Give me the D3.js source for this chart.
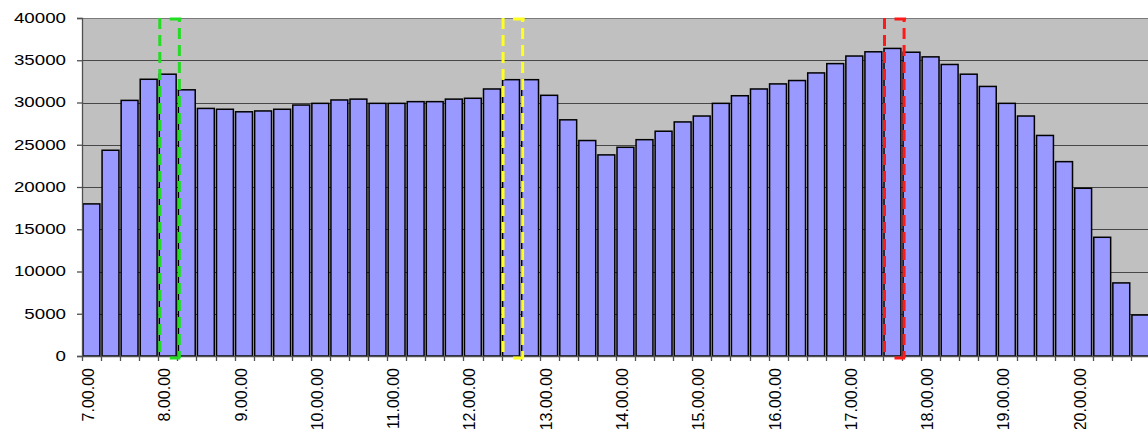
<!DOCTYPE html>
<html>
<head>
<meta charset="utf-8">
<script src="https://cdn.jsdelivr.net/npm/d3@7"></script>
<style>
  html, body { margin: 0; padding: 0; background: #ffffff; }
  svg { display: block; }
  text { font-family: "Liberation Sans", Arial, sans-serif; fill: #000; }
</style>
</head>
<body>
<svg id="chart" width="1148" height="429"></svg>
<script>
// ---- data ----
const categories = [
  "7.00.00","7.15.00","7.30.00","7.45.00",
  "8.00.00","8.15.00","8.30.00","8.45.00",
  "9.00.00","9.15.00","9.30.00","9.45.00",
  "10.00.00","10.15.00","10.30.00","10.45.00",
  "11.00.00","11.15.00","11.30.00","11.45.00",
  "12.00.00","12.15.00","12.30.00","12.45.00",
  "13.00.00","13.15.00","13.30.00","13.45.00",
  "14.00.00","14.15.00","14.30.00","14.45.00",
  "15.00.00","15.15.00","15.30.00","15.45.00",
  "16.00.00","16.15.00","16.30.00","16.45.00",
  "17.00.00","17.15.00","17.30.00","17.45.00",
  "18.00.00","18.15.00","18.30.00","18.45.00",
  "19.00.00","19.15.00","19.30.00","19.45.00",
  "20.00.00","20.15.00","20.30.00","20.45.00"
];
const values = [
  18000, 24350, 30250, 32750,
  33350, 31500, 29300, 29200,
  28900, 29000, 29200, 29700,
  29900, 30300, 30400, 29900,
  29900, 30100, 30100, 30400,
  30500, 31600, 32700, 32700,
  30850, 27950, 25500, 23800,
  24700, 25600, 26600, 27700,
  28400, 29900, 30800, 31600,
  32200, 32600, 33500, 34600,
  35500, 36000, 36400, 35950,
  35400, 34500, 33350, 31900,
  29900, 28400, 26100, 23000,
  19850, 14050, 8650, 4850
];
const yTicks = [0, 5000, 10000, 15000, 20000, 25000, 30000, 35000, 40000];
const xTickLabels = ["7.00.00","8.00.00","9.00.00","10.00.00","11.00.00","12.00.00",
  "13.00.00","14.00.00","15.00.00","16.00.00","17.00.00","18.00.00","19.00.00","20.00.00"];
const highlightCats = ["8.00.00", "12.30.00", "17.30.00"];
const highlightColors = ["#22dd22", "#ffff22", "#ff1a1a"];

// ---- layout ----
const svg = d3.select("#chart");
const plot = { left: 82, right: 1150, top: 18, bottom: 356 };

const x = d3.scaleBand().domain(categories).range([plot.left, plot.right]).padding(0);
const y = d3.scaleLinear().domain([0, 40000]).range([plot.bottom, plot.top]);
const step = x.step();

// plot background
svg.append("rect")
  .attr("x", plot.left).attr("y", plot.top)
  .attr("width", plot.right - plot.left).attr("height", plot.bottom - plot.top)
  .attr("fill", "#c0c0c0");

// gridlines
svg.append("g").selectAll("line").data(yTicks.filter(d => d > 0)).join("line")
  .attr("x1", plot.left).attr("x2", plot.right)
  .attr("y1", d => Math.round(y(d)) + 0.5).attr("y2", d => Math.round(y(d)) + 0.5)
  .attr("stroke", d => d === 40000 ? "#7a7a7a" : "#474747")
  .attr("stroke-width", 1.2);

// bars
svg.append("g").selectAll("rect").data(values).join("rect")
  .attr("x", (d, i) => x(categories[i]) + 1)
  .attr("width", step - 2.2)
  .attr("y", d => y(d))
  .attr("height", d => y(0) - y(d))
  .attr("fill", "#9999ff")
  .attr("stroke", "#000")
  .attr("stroke-width", 1.5);

// y axis
const yAxis = d3.axisLeft(y).tickValues(yTicks).tickSize(5).tickFormat("");
const gy = svg.append("g").attr("transform", `translate(${plot.left},0)`).call(yAxis);
gy.select(".domain").attr("stroke", "#505050").attr("stroke-width", 1.3);
gy.selectAll(".tick line").attr("stroke", "#505050").attr("stroke-width", 1.3);

svg.append("g").selectAll("text").data(yTicks).join("text")
  .attr("transform", d => `translate(66,${y(d)}) scale(1.25,1)`)
  .attr("text-anchor", "end")
  .attr("dominant-baseline", "central")
  .attr("font-size", 15)
  .text(d => d);

// x axis (ticks at category boundaries)
svg.append("line")
  .attr("x1", plot.left).attr("x2", plot.right)
  .attr("y1", plot.bottom + 0.5).attr("y2", plot.bottom + 0.5)
  .attr("stroke", "#505050").attr("stroke-width", 1.3);
svg.append("g").selectAll("line").data(categories).join("line")
  .attr("x1", d => Math.round(x(d)) + 0.5).attr("x2", d => Math.round(x(d)) + 0.5)
  .attr("y1", plot.bottom).attr("y2", plot.bottom + 5)
  .attr("stroke", "#505050").attr("stroke-width", 1.3);

svg.append("g").selectAll("text").data(xTickLabels).join("text")
  .attr("transform", d => `translate(${x(d) + step / 2 - 3},368) rotate(-90)`)
  .attr("text-anchor", "end")
  .attr("dominant-baseline", "central")
  .attr("font-size", 16)
  .text(d => d);

// dashed highlight boxes
const hg = svg.append("g");
highlightCats.forEach((c, k) => {
  const i = categories.indexOf(c);
  const l = x(c) + 1.5;
  const r = x(categories[i + 1]) + 2;
  const t = plot.top + 1;
  const b = plot.bottom + 2;
  const col = highlightColors[k];
  const common = sel => sel.attr("stroke", col).attr("stroke-width", 3).attr("fill", "none");
  hg.append("line").attr("x1", l).attr("x2", l).attr("y1", t - 1).attr("y2", b)
    .call(common).attr("stroke-dasharray", "11,6");
  hg.append("line").attr("x1", r).attr("x2", r).attr("y1", t).attr("y2", b)
    .call(common).attr("stroke-dasharray", "11,6").attr("stroke-dashoffset", -9);
  hg.append("line").attr("x1", l + 10).attr("x2", r + 2).attr("y1", t).attr("y2", t)
    .call(common);
  hg.append("line").attr("x1", l + 10).attr("x2", r + 1).attr("y1", b).attr("y2", b)
    .call(common);
});
</script>
</body>
</html>
